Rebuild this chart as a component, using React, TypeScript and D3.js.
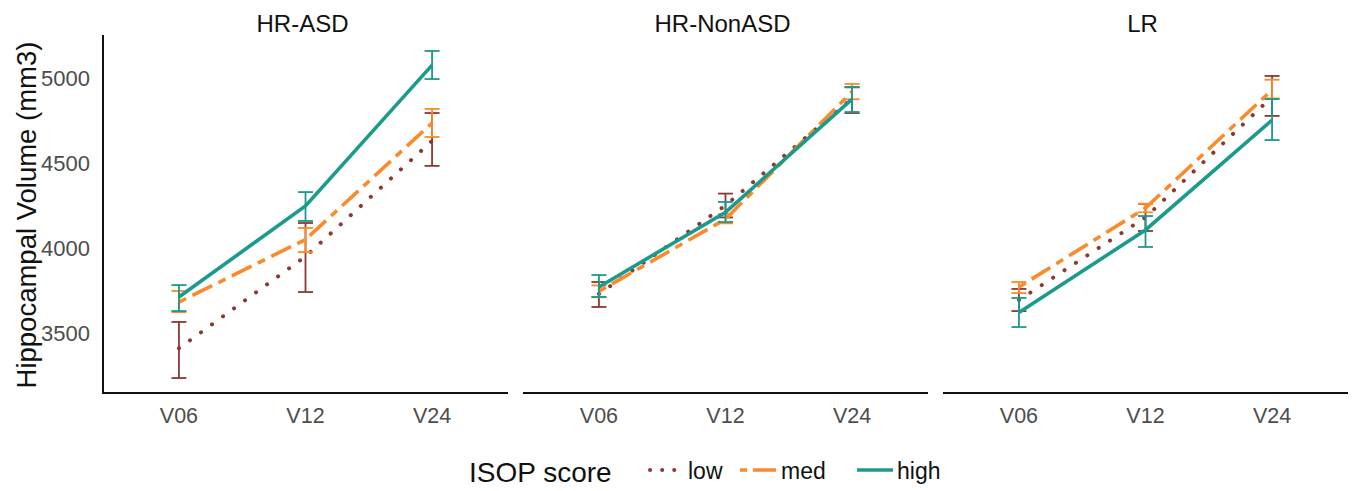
import React from "react";
import * as d3 from "d3";

// categories
const visits = ["V06", "V12", "V24"];
const groups = ["HR-ASD", "HR-NonASD", "LR"];
const scores = ["low", "med", "high"];
const yTicks = [3500, 4000, 4500, 5000];

// means / error limits per group
const asdLow = [3410, 3950, 4630];
const asdLowLo = [3235, 3741, 4483];
const asdLowHi = [3565, 4147, 4794];
const asdMed = [3682, 4050, 4735];
const asdMedLo = [3623, 3976, 4653];
const asdMedHi = [3747, 4118, 4818];
const asdHigh = [3712, 4247, 5076];
const asdHighLo = [3629, 4159, 4994];
const asdHighHi = [3782, 4329, 5159];

const nonLow = [3730, 4250, 4880];
const nonLowLo = [3653, 4180, 4794];
const nonLowHi = [3800, 4320, 4945];
const nonMed = [3745, 4170, 4920];
const nonMedLo = [3710, 4145, 4875];
const nonMedHi = [3780, 4200, 4965];
const nonHigh = [3771, 4210, 4876];
const nonHighLo = [3712, 4153, 4800];
const nonHighHi = [3841, 4271, 4947];

const lrLow = [3694, 4180, 4890];
const lrLowLo = [3629, 4100, 4777];
const lrLowHi = [3759, 4260, 5012];
const lrMed = [3770, 4235, 4930];
const lrMedLo = [3735, 4210, 4880];
const lrMedHi = [3800, 4260, 4990];
const lrHigh = [3620, 4106, 4753];
const lrHighLo = [3535, 4006, 4635];
const lrHighHi = [3706, 4188, 4876];

const panelData = [
  [[asdLow, asdLowLo, asdLowHi], [asdMed, asdMedLo, asdMedHi], [asdHigh, asdHighLo, asdHighHi]],
  [[nonLow, nonLowLo, nonLowHi], [nonMed, nonMedLo, nonMedHi], [nonHigh, nonHighLo, nonHighHi]],
  [[lrLow, lrLowLo, lrLowHi], [lrMed, lrMedLo, lrMedHi], [lrHigh, lrHighLo, lrHighHi]],
];

const colors: any = { low: "#8a3a33", med: "#fb8a2a", high: "#1b9a8e" };
const dashes: any = { low: "0.1 13.5", med: "8 7 22 7", high: null };

const W = 1357, H = 491;
const panelLeft = [103, 523, 943];
const panelW = 405;
const top = 35, bottom = 393;
const font = "'Liberation Sans', Arial, Helvetica, sans-serif";

export default function App() {
  const y = d3.scaleLinear().domain([3147, 5253]).range([bottom, top]);
  const line = (x: any) => d3.line<number>().x((d, i) => x(visits[i])).y(d => y(d));

  return (
    <svg width={W} height={H} style={{ position: "absolute", left: 0, top: 0, display: "block", background: "#fff" }} fontFamily={font}>
      {/* y axis */}
      <line x1={panelLeft[0]} x2={panelLeft[0]} y1={top} y2={bottom + 1} stroke="#111" strokeWidth={2} />
      {yTicks.map(t => (
        <text key={t} x={90} y={y(t)} dy="0.35em" textAnchor="end" fontSize={22} fill="#4d4d4d">{t}</text>
      ))}
      <text transform={`translate(36,${(top + bottom) / 2 + 1}) rotate(-90)`} textAnchor="middle" fontSize={27.5} fill="#111">Hippocampal Volume (mm3)</text>

      {groups.map((g, gi) => {
        const x0 = panelLeft[gi];
        const x = d3.scalePoint<string>().domain(visits).range([x0, x0 + panelW]).padding(0.6);
        return (
          <g key={g}>
            <text x={x0 + panelW / 2 - 3} y={32} textAnchor="middle" fontSize={24} fill="#111">{g}</text>
            <line x1={gi === 0 ? x0 - 1 : x0} x2={x0 + panelW} y1={bottom} y2={bottom} stroke="#111" strokeWidth={2} />
            {visits.map(v => (
              <text key={v} x={x(v)} y={423} textAnchor="middle" fontSize={21.5} fill="#4d4d4d">{v}</text>
            ))}
            {scores.map((s, si) => {
              const [m, lo, hi] = panelData[gi][si];
              return (
                <g key={s}>
                  {visits.map((v, i) => (
                    <g key={v} stroke={colors[s]} strokeWidth={1.8}>
                      <line x1={x(v)} x2={x(v)} y1={y(lo[i])} y2={y(hi[i])} />
                      <line x1={x(v)! - 7.5} x2={x(v)! + 7.5} y1={y(lo[i])} y2={y(lo[i])} />
                      <line x1={x(v)! - 7.5} x2={x(v)! + 7.5} y1={y(hi[i])} y2={y(hi[i])} />
                    </g>
                  ))}
                  <path d={line(x)(m) || ""} fill="none" stroke={colors[s]} strokeWidth={s === "low" ? 4 : 3.6}
                    strokeDasharray={dashes[s] || undefined} strokeLinecap={s === "low" ? "round" : "butt"} />
                </g>
              );
            })}
          </g>
        );
      })}

      {/* legend */}
      <text x={469} y={482} fontSize={28} fill="#111">ISOP score</text>
      <line x1={650} x2={684} y1={470} y2={470} stroke={colors.low} strokeWidth={4} strokeDasharray="0.1 12" strokeLinecap="round" />
      <text x={688} y={479} fontSize={23} fill="#111">low</text>
      <line x1={740} x2={776} y1={470} y2={470} stroke={colors.med} strokeWidth={3.6} strokeDasharray="7 6 23 6" />
      <text x={781} y={479} fontSize={23} fill="#111">med</text>
      <line x1={857} x2={893} y1={470} y2={470} stroke={colors.high} strokeWidth={3.6} />
      <text x={897} y={479} fontSize={23} fill="#111">high</text>
    </svg>
  );
}
